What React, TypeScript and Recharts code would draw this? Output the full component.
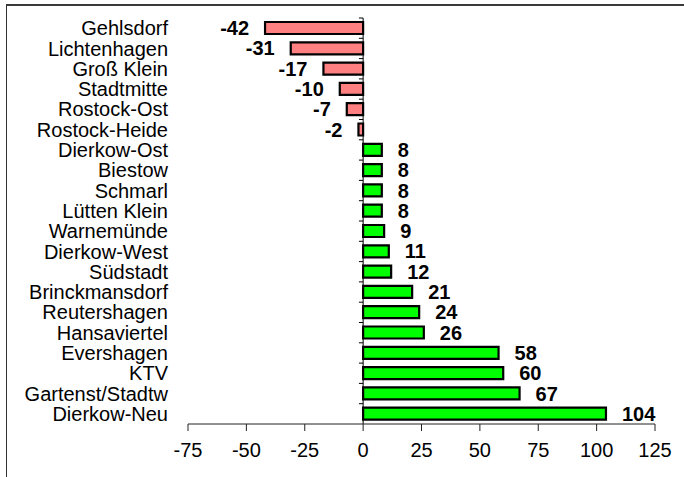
import { BarChart, Bar, XAxis, YAxis, Cell, LabelList, ReferenceLine } from "recharts";

const districts = [
  "Gehlsdorf",
  "Lichtenhagen",
  "Groß Klein",
  "Stadtmitte",
  "Rostock-Ost",
  "Rostock-Heide",
  "Dierkow-Ost",
  "Biestow",
  "Schmarl",
  "Lütten Klein",
  "Warnemünde",
  "Dierkow-West",
  "Südstadt",
  "Brinckmansdorf",
  "Reutershagen",
  "Hansaviertel",
  "Evershagen",
  "KTV",
  "Gartenst/Stadtw",
  "Dierkow-Neu",
];

const changes = [-42, -31, -17, -10, -7, -2, 8, 8, 8, 8, 9, 11, 12, 21, 24, 26, 58, 60, 67, 104];

const xTicks = [-75, -50, -25, 0, 25, 50, 75, 100, 125];

const data = districts.map((name, i) => ({ name, value: changes[i] }));

const FONT = "'Liberation Sans', Arial, sans-serif";

export default function App() {
  return (
    <div style={{ position: "absolute", left: 0, top: 0, width: 684, height: 477, background: "#fff", fontFamily: FONT }}>
      <div
        style={{
          position: "absolute",
          left: 6,
          top: 4,
          width: 700,
          height: 500,
          borderTop: "2px solid #3a3a3a",
          borderLeft: "1px solid #333",
        }}
      />
      <BarChart
        width={684}
        height={477}
        layout="vertical"
        data={data}
        barCategoryGap={0}
        margin={{ top: 18, right: 29, left: 0, bottom: 23 }}
        style={{ position: "absolute", left: 0, top: 0 }}
      >
        <XAxis
          type="number"
          domain={[-75, 125]}
          ticks={xTicks}
          interval={0}
          height={30}
          tickSize={7}
          tickMargin={12}
          axisLine={{ stroke: "#222", strokeWidth: 1 }}
          tickLine={{ stroke: "#222" }}
          tick={{ fill: "#000", fontSize: 20, fontFamily: FONT }}
        />
        <YAxis
          type="category"
          dataKey="name"
          width={188}
          interval={0}
          axisLine={false}
          tickLine={false}
          tickSize={0}
          tickMargin={20}
          tick={{ fill: "#000", fontSize: 20, fontFamily: FONT }}
        />
        <ReferenceLine x={0} stroke="#000" strokeWidth={1} />
        {districts.map((d) => (
          <ReferenceLine
            key={d}
            position="start"
            ifOverflow="visible"
            segment={[
              { x: -1.8, y: d },
              { x: 0, y: d },
            ]}
            stroke="#000"
            strokeWidth={1}
          />
        ))}
        <Bar dataKey="value" barSize={12} stroke="#000" strokeWidth={2.2} isAnimationActive={false}>
          {data.map((e) => (
            <Cell key={e.name} fill={e.value < 0 ? "#ff8080" : "#00ff00"} />
          ))}
          <LabelList
            dataKey="value"
            position="right"
            offset={16}
            style={{ fill: "#000", fontSize: 20, fontWeight: 700, fontFamily: FONT }}
          />
        </Bar>
      </BarChart>
    </div>
  );
}
